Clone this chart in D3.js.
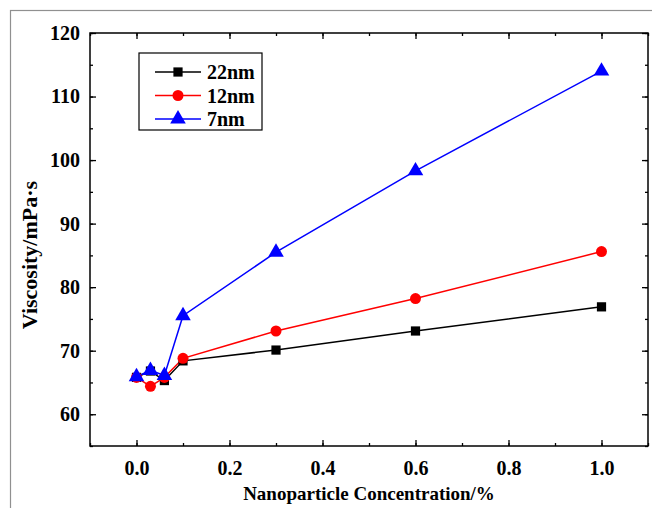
<!DOCTYPE html>
<html>
<head>
<meta charset="utf-8">
<script src="https://cdn.jsdelivr.net/npm/d3@7"></script>
<style>
  body { margin: 0; background: #fff; }
  text { font-family: "Liberation Serif", "Times New Roman", serif; font-weight: bold; }
</style>
</head>
<body>
<script>
// data
const concentration = [0, 0.03, 0.06, 0.1, 0.3, 0.6, 1.0];
const visc22 = [65.8, 66.8, 65.3, 68.4, 70.1, 73.1, 76.9];
const visc12 = [65.8, 64.4, 65.8, 68.8, 73.1, 78.2, 85.6];
const visc7  = [65.9, 66.9, 66.1, 75.5, 85.5, 98.3, 114.0];
const seriesNames = ["22nm", "12nm", "7nm"];
const seriesColors = ["#000000", "#ff0000", "#0000ff"];
const seriesShapes = [d3.symbolSquare, d3.symbolCircle, d3.symbolTriangle];
const xTicks = [0, 0.2, 0.4, 0.6, 0.8, 1.0];
const yTicks = [60, 70, 80, 90, 100, 110, 120];

const w = 652, h = 508;
const margin = { top: 33, left: 90, right: 4, bottom: 62 };
const width = w - margin.left - margin.right;
const height = h - margin.top - margin.bottom;

const svg = d3.select("body").append("svg")
  .attr("width", w)
  .attr("height", h);

// outer grey frame (only left/top visible)
svg.append("rect")
  .attr("x", 10.5).attr("y", 10.5)
  .attr("width", 700).attr("height", 600)
  .attr("fill", "none")
  .attr("stroke", "#909090")
  .attr("stroke-width", 1.2);

const chart = svg.append("g")
  .attr("transform", "translate(" + margin.left + "," + margin.top + ")");

const x = d3.scaleLinear().domain([-0.1, 1.1]).range([0, width]);
const y = d3.scaleLinear().domain([55, 120]).range([height, 0]);

const xMinor = d3.range(-0.1, 1.101, 0.1).map(d => +d.toFixed(2));
const yMinor = d3.range(55, 120.1, 5);

function styleAxis(g) {
  g.select(".domain").remove();
  g.selectAll("line").attr("stroke", "#000").attr("stroke-width", 1.3);
  g.selectAll("text").style("font-size", "20px").attr("fill", "#000");
}

// minor ticks
chart.append("g").attr("transform", "translate(0," + height + ")")
  .call(d3.axisBottom(x).tickValues(xMinor).tickSize(-3).tickFormat(""))
  .call(styleAxis);
chart.append("g")
  .call(d3.axisTop(x).tickValues(xMinor).tickSize(-3).tickFormat(""))
  .call(styleAxis);
chart.append("g")
  .call(d3.axisLeft(y).tickValues(yMinor).tickSize(-3).tickFormat(""))
  .call(styleAxis);
chart.append("g").attr("transform", "translate(" + width + ",0)")
  .call(d3.axisRight(y).tickValues(yMinor).tickSize(-3).tickFormat(""))
  .call(styleAxis);

// major ticks with labels
chart.append("g").attr("transform", "translate(0," + height + ")")
  .call(d3.axisBottom(x).tickValues(xTicks).tickSize(-6).tickPadding(15).tickFormat(d3.format(".1f")))
  .call(styleAxis);
chart.append("g")
  .call(d3.axisTop(x).tickValues(xTicks).tickSize(-6).tickFormat(""))
  .call(styleAxis);
chart.append("g")
  .call(d3.axisLeft(y).tickValues(yTicks).tickSize(-6).tickPadding(10))
  .call(styleAxis);
chart.append("g").attr("transform", "translate(" + width + ",0)")
  .call(d3.axisRight(y).tickValues(yTicks).tickSize(-6).tickFormat(""))
  .call(styleAxis);

// plot frame
chart.append("rect")
  .attr("width", width).attr("height", height)
  .attr("fill", "none").attr("stroke", "#000").attr("stroke-width", 1.5);

const allSeries = [visc22, visc12, visc7];
const line = d3.line()
  .x((d, i) => x(concentration[i]))
  .y(d => y(d));

const symSizes = [85, 95, 105];

allSeries.forEach((vals, k) => {
  chart.append("path")
    .datum(vals)
    .attr("d", line)
    .attr("fill", "none")
    .attr("stroke", seriesColors[k])
    .attr("stroke-width", 1.5);
});
allSeries.forEach((vals, k) => {
  chart.selectAll(".pt" + k)
    .data(vals)
    .enter().append("path")
      .attr("class", "pt" + k)
      .attr("transform", (d, i) => "translate(" + x(concentration[i]) + "," + y(d) + ")")
      .attr("d", d3.symbol().type(seriesShapes[k]).size(symSizes[k]))
      .attr("fill", seriesColors[k]);
});

// legend
const legend = svg.append("g").attr("transform", "translate(139,53)");
legend.append("rect")
  .attr("width", 123).attr("height", 77)
  .attr("fill", "#fff").attr("stroke", "#000").attr("stroke-width", 1.2);
seriesNames.forEach((name, k) => {
  const row = legend.append("g").attr("transform", "translate(0," + (19 + k * 23.5) + ")");
  row.append("line")
    .attr("x1", 16).attr("x2", 62)
    .attr("stroke", seriesColors[k]).attr("stroke-width", 1.5);
  row.append("path")
    .attr("transform", "translate(39,0)")
    .attr("d", d3.symbol().type(seriesShapes[k]).size(symSizes[k]))
    .attr("fill", seriesColors[k]);
  row.append("text")
    .attr("x", 68).attr("y", 7)
    .style("font-size", "20px")
    .text(name);
});

// axis titles
svg.append("text")
  .attr("x", margin.left + x(0.5)).attr("y", 500)
  .attr("text-anchor", "middle")
  .style("font-size", "19px")
  .text("Nanoparticle Concentration/%");

svg.append("text")
  .attr("transform", "translate(37,255) rotate(-90)")
  .attr("text-anchor", "middle")
  .style("font-size", "22px")
  .text("Viscosity/mPa·s");
</script>
</body>
</html>
